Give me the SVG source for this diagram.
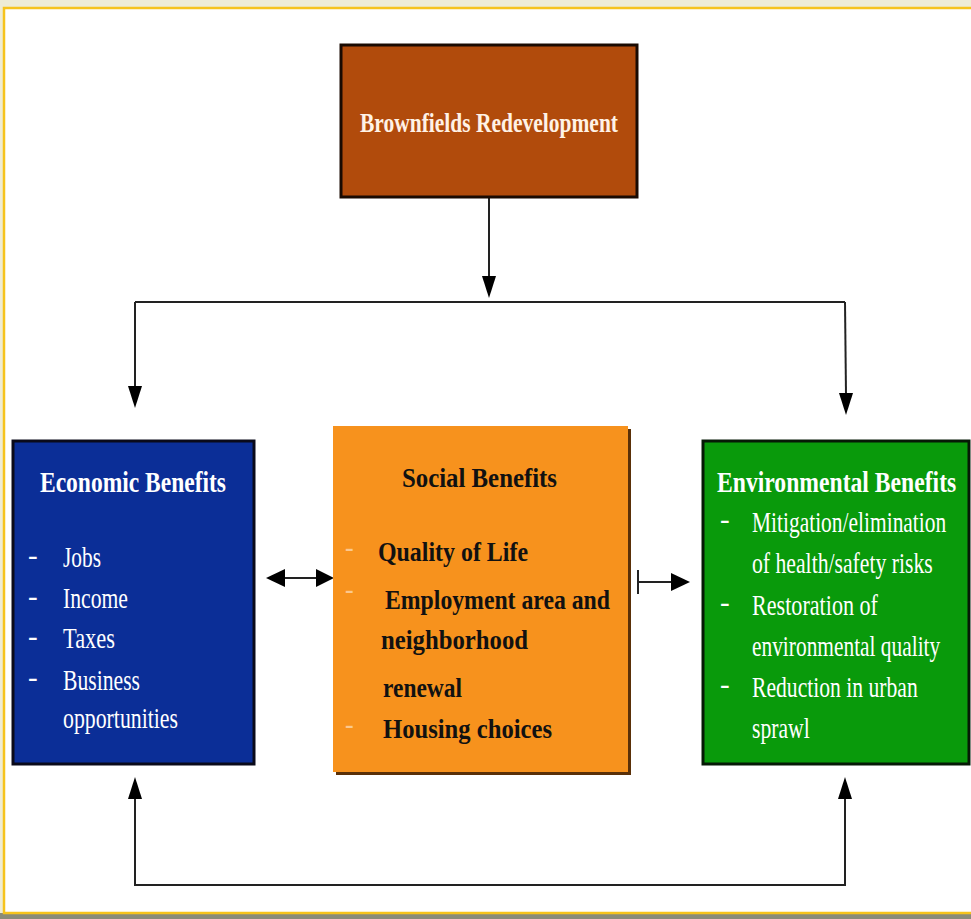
<svg xmlns="http://www.w3.org/2000/svg" width="971" height="919" viewBox="0 0 971 919">
<defs>
<style>
.t{font-family:"Liberation Serif","Times New Roman",serif;}
.w{fill:#ffffff;}
.c{fill:#fff2e6;}
.k{fill:#111111;}
.g{fill:#ffffff;opacity:0.5;}
.ln{stroke:#222;stroke-width:2;fill:none;}
</style>
</defs>
<rect x="0" y="0" width="971" height="919" fill="#eeecd5"/>
<rect x="0" y="913" width="971" height="6" fill="#8a8b78"/>
<rect x="4" y="8" width="970" height="905" fill="#ffffff" stroke="#f6c31c" stroke-width="2.5"/>

<g id="connectors">
<line x1="489" y1="197" x2="489" y2="278" class="ln"/>
<path d="M482,276 L496,276 L489,298 z" fill="#000"/>
<path d="M135,302 H845" class="ln" stroke-width="3"/>
<line x1="135" y1="302" x2="135" y2="388" class="ln"/>
<path d="M128,386 L142,386 L135,408 z" fill="#000"/>
<line x1="845" y1="302" x2="846" y2="395" class="ln"/>
<path d="M839,393 L853,393 L846,415 z" fill="#000"/>
<line x1="284" y1="578" x2="318" y2="578" class="ln"/>
<path d="M266,578 L285,569 L285,587 z" fill="#000"/>
<path d="M334,578 L316,569 L316,587 z" fill="#000"/>
<line x1="638" y1="570" x2="638" y2="594" class="ln" stroke-width="3"/>
<line x1="638" y1="582" x2="673" y2="582" class="ln"/>
<path d="M690,582 L671,573 L671,591 z" fill="#000"/>
<path d="M135,797 V885 H845 V797" class="ln" stroke="#444"/>
<path d="M128,799 L142,799 L135,777 z" fill="#000"/>
<path d="M838,799 L852,799 L845,777 z" fill="#000"/>
</g>

<g id="node-brownfields">
<rect x="341" y="45" width="296" height="152" fill="#b14b0c" stroke="#1a0a02" stroke-width="3"/>
<text class="t c" x="360" y="132" font-size="27" font-weight="bold" textLength="258" lengthAdjust="spacingAndGlyphs">Brownfields Redevelopment</text>
</g>

<g id="node-economic">
<rect x="13" y="441" width="241" height="323" fill="#0b2e97" stroke="#0a0a1a" stroke-width="3"/>
<text class="t w" x="40" y="492" font-size="29" font-weight="bold" textLength="186" lengthAdjust="spacingAndGlyphs">Economic Benefits</text>
<g class="t w" font-size="29">
<text x="28" y="565">-</text><text x="63" y="567" textLength="38" lengthAdjust="spacingAndGlyphs">Jobs</text>
<text x="28" y="606">-</text><text x="63" y="608" textLength="65" lengthAdjust="spacingAndGlyphs">Income</text>
<text x="28" y="646">-</text><text x="63" y="648" textLength="52" lengthAdjust="spacingAndGlyphs">Taxes</text>
<text x="28" y="687">-</text><text x="63" y="690" textLength="77" lengthAdjust="spacingAndGlyphs">Business</text>
<text x="63" y="728" textLength="115" lengthAdjust="spacingAndGlyphs">opportunities</text>
</g>
</g>

<g id="node-social">
<rect x="336" y="429" width="295" height="346" fill="#5a3008"/>
<rect x="333" y="426" width="295" height="346" fill="#f7921d"/>
<g class="t g" font-size="26" font-weight="bold">
<text x="345" y="556">-</text>
<text x="345" y="598">-</text>
<text x="345" y="733">-</text>
</g>
<g class="t k" font-size="27" font-weight="bold">
<text x="402" y="487" textLength="155" lengthAdjust="spacingAndGlyphs">Social Benefits</text>
<text x="378" y="561" textLength="150" lengthAdjust="spacingAndGlyphs">Quality of Life</text>
<text x="385" y="609" textLength="225" lengthAdjust="spacingAndGlyphs">Employment area and</text>
<text x="381" y="649" textLength="147" lengthAdjust="spacingAndGlyphs">neighborhood</text>
<text x="383" y="697" textLength="79" lengthAdjust="spacingAndGlyphs">renewal</text>
<text x="383" y="738" textLength="169" lengthAdjust="spacingAndGlyphs">Housing choices</text>
</g>
</g>

<g id="node-environmental">
<rect x="703" y="441" width="266" height="323" fill="#099a0b" stroke="#061a06" stroke-width="3"/>
<g class="t w" font-size="29">
<text transform="translate(717,492) scale(0.75,1)" font-weight="bold" textLength="319" lengthAdjust="spacingAndGlyphs">Environmental Benefits</text>
<text x="720" y="529">-</text>
<text transform="translate(752,532) scale(0.75,1)" textLength="259" lengthAdjust="spacingAndGlyphs">Mitigation/elimination</text>
<text transform="translate(752,573) scale(0.75,1)" textLength="241" lengthAdjust="spacingAndGlyphs">of health/safety risks</text>
<text x="720" y="612">-</text>
<text transform="translate(752,615) scale(0.75,1)" textLength="168" lengthAdjust="spacingAndGlyphs">Restoration of</text>
<text transform="translate(752,656) scale(0.75,1)" textLength="251" lengthAdjust="spacingAndGlyphs">environmental quality</text>
<text x="720" y="694">-</text>
<text transform="translate(752,697) scale(0.75,1)" textLength="221" lengthAdjust="spacingAndGlyphs">Reduction in urban</text>
<text transform="translate(752,738) scale(0.75,1)" textLength="77" lengthAdjust="spacingAndGlyphs">sprawl</text>
</g>
</g>
</svg>
